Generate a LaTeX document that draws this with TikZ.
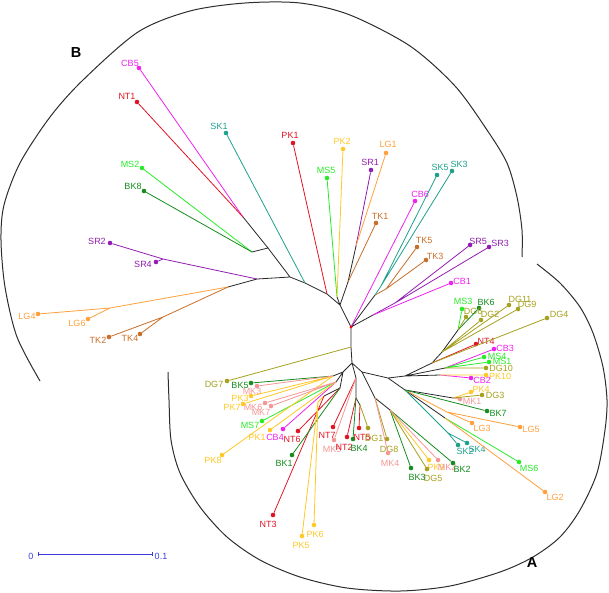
\documentclass[tikz,border=0pt]{standalone}
\usepackage{fontspec}
\setmainfont{Liberation Sans}
\usetikzlibrary{arrows.meta}
\definecolor{cCB}{RGB}{238,34,238}
\definecolor{cNT}{RGB}{225,20,35}
\definecolor{cSK}{RGB}{30,160,140}
\definecolor{cPK}{RGB}{255,200,40}
\definecolor{cMS}{RGB}{40,235,40}
\definecolor{cBK}{RGB}{20,140,30}
\definecolor{cSR}{RGB}{145,30,175}
\definecolor{cLG}{RGB}{255,160,60}
\definecolor{cTK}{RGB}{200,110,40}
\definecolor{cDG}{RGB}{165,160,30}
\definecolor{cMK}{RGB}{245,150,150}
\definecolor{cBar}{RGB}{60,60,220}
\definecolor{edge}{RGB}{40,40,40}
\definecolor{arcgray}{RGB}{45,45,45}

\begin{document}
\begin{tikzpicture}[x=1pt,y=-1pt,
    leaf/.style={circle,fill=#1,inner sep=0pt,minimum size=4.6pt},
    lab/.style={text=#1,font=\fontsize{9}{9}\selectfont,inner sep=0pt},
    br/.style={line width=0.8pt,draw=#1},
    br/.default=edge,
    arc/.style={line width=1pt,draw=arcgray},
    tag/.style={font=\fontsize{14.5}{14.5}\selectfont\bfseries,inner sep=0pt}]
    \useasboundingbox (0,0) rectangle (609,592);

    % cluster arcs
    \draw[arc] plot[smooth] coordinates {(40,381) (17,337) (5,287) (1,240) (4,205) (20,163) (50,117) (83,80) (138,32) (190,11) (245,3) (300,3) (350,15) (410,46) (455,86) (487,130) (507,163) (517,197) (522,230) (522,257)};
    \draw[arc] plot[smooth] coordinates {(168,372) (169,400) (171,440) (180,473) (200,507) (227,537) (260,560) (300,577) (347,588) (400,591) (450,586) (500,572) (533,557) (560,537) (580,510) (597,473) (605,430) (607,400) (603,367) (593,333) (580,307) (560,283) (537,264)};
    \node[tag] (tagb) at (76,53) {B};
    \node[tag] (taga) at (532,562) {A};

    % inner nodes, upper part
    \coordinate (root) at (351,327);
    \coordinate (t1) at (340,305);
    \coordinate (t2) at (337,297);
    \coordinate (t3) at (327,294);
    \coordinate (t4) at (305,283);
    \coordinate (t5) at (290,277);
    \coordinate (t6) at (268,248);
    \coordinate (t7) at (243,217);
    \coordinate (t6b) at (252,252);
    \coordinate (t8) at (257,279);
    \coordinate (s1) at (163,259);
    \coordinate (t9) at (228,287);
    \coordinate (lg) at (110,308);
    \coordinate (tk) at (163,317);
    \coordinate (u1) at (348,282);
    \coordinate (u2) at (356,246);
    \coordinate (r1) at (375,295);
    \coordinate (sk) at (381,286);
    \coordinate (tkj) at (386,289);
    \coordinate (r2) at (373,315);
    \coordinate (srj) at (395,303);
    % inner nodes, lower part
    \coordinate (b0) at (351,347);
    \coordinate (lb) at (352,363);
    \coordinate (e0) at (343,372);
    \coordinate (e1a) at (333,376);
    \coordinate (e1b) at (336,382);
    \coordinate (e2) at (340,388);
    \coordinate (e3) at (324,396);
    \coordinate (pkj) at (318,402);
    \coordinate (c0) at (356,378);
    \coordinate (c1) at (356,398);
    \coordinate (c2) at (360,405);
    \coordinate (d0) at (362,372);
    \coordinate (d1) at (375,398);
    \coordinate (d2) at (390,410);
    \coordinate (r0) at (388,378);
    \coordinate (rr1) at (405,376);
    \coordinate (rr2) at (432,363);
    \coordinate (uu1) at (442,352);
    \coordinate (msb) at (458,330);
    \coordinate (rr3) at (445,368);
    \coordinate (rr4) at (440,375);
    \coordinate (rr5) at (405,390);
    \coordinate (m1) at (453,398);
    \coordinate (l3) at (447,412);
    \coordinate (m2) at (445,418);
    \coordinate (skj) at (448,433);

    % leaves
    \node[leaf=cCB] (cb5) at (139,68) {}; \node[lab=cCB] (cb5t) at (130,63) {CB5};
    \node[leaf=cNT] (nt1) at (137,102) {}; \node[lab=cNT] (nt1t) at (127,96) {NT1};
    \node[leaf=cMS] (ms2) at (142,168) {}; \node[lab=cMS] (ms2t) at (130,164) {MS2};
    \node[leaf=cBK] (bk8) at (144,191) {}; \node[lab=cBK] (bk8t) at (133,186) {BK8};
    \node[leaf=cSK] (sk1) at (226,133) {}; \node[lab=cSK] (sk1t) at (219,126) {SK1};
    \node[leaf=cNT] (pk1) at (293,143) {}; \node[lab=cNT] (pk1t) at (290,135) {PK1};
    \node[leaf=cPK] (pk2) at (343,149) {}; \node[lab=cPK] (pk2t) at (342,141) {PK2};
    \node[leaf=cMS] (ms5) at (327,178) {}; \node[lab=cMS] (ms5t) at (326,170) {MS5};
    \node[leaf=cSR] (sr1) at (371,170) {}; \node[lab=cSR] (sr1t) at (370,162) {SR1};
    \node[leaf=cLG] (lg1) at (386,153) {}; \node[lab=cLG] (lg1t) at (388,144) {LG1};
    \node[leaf=cCB] (cb6) at (415,201) {}; \node[lab=cCB] (cb6t) at (420,194) {CB6};
    \node[leaf=cTK] (tk1) at (376,223) {}; \node[lab=cTK] (tk1t) at (380,216) {TK1};
    \node[leaf=cSK] (sk5) at (437,175) {}; \node[lab=cSK] (sk5t) at (440,167) {SK5};
    \node[leaf=cSK] (sk3) at (452,171) {}; \node[lab=cSK] (sk3t) at (459,164) {SK3};
    \node[leaf=cTK] (tk5) at (417,247) {}; \node[lab=cTK] (tk5t) at (424,240) {TK5};
    \node[leaf=cTK] (tk3) at (426,260) {}; \node[lab=cTK] (tk3t) at (435,256) {TK3};
    \node[leaf=cSR] (sr5) at (470,245) {}; \node[lab=cSR] (sr5t) at (478,241) {SR5};
    \node[leaf=cSR] (sr3) at (489,247) {}; \node[lab=cSR] (sr3t) at (500,243) {SR3};
    \node[leaf=cCB] (cb1) at (451,283) {}; \node[lab=cCB] (cb1t) at (462,281) {CB1};
    \node[leaf=cSR] (sr2) at (110,243) {}; \node[lab=cSR] (sr2t) at (97,241) {SR2};
    \node[leaf=cSR] (sr4) at (156,262) {}; \node[lab=cSR] (sr4t) at (143,264) {SR4};
    \node[leaf=cLG] (lg4) at (38,314) {}; \node[lab=cLG] (lg4t) at (27,316) {LG4};
    \node[leaf=cLG] (lg6) at (88,319) {}; \node[lab=cLG] (lg6t) at (77,323) {LG6};
    \node[leaf=cTK] (tk2) at (109,337) {}; \node[lab=cTK] (tk2t) at (98,340) {TK2};
    \node[leaf=cTK] (tk4) at (140,334) {}; \node[lab=cTK] (tk4t) at (130,338) {TK4};
    \node[leaf=cMS] (ms3) at (462,309) {}; \node[lab=cMS] (ms3t) at (463,301) {MS3};
    \node[leaf=cBK] (bk6) at (479,308) {}; \node[lab=cBK] (bk6t) at (486,302) {BK6};
    \node[leaf=cDG] (dg6) at (466,317) {}; \node[lab=cDG] (dg6t) at (473,311) {DG6};
    \node[leaf=cDG] (dg2) at (481,320) {}; \node[lab=cDG] (dg2t) at (490,314) {DG2};
    \node[leaf=cDG] (dg11) at (509,305) {}; \node[lab=cDG] (dg11t) at (520,299) {DG11};
    \node[leaf=cDG] (dg9) at (518,309) {}; \node[lab=cDG] (dg9t) at (527,304) {DG9};
    \node[leaf=cDG] (dg4) at (547,318) {}; \node[lab=cDG] (dg4t) at (559,314) {DG4};
    \node[leaf=cNT] (nt4) at (476,344) {}; \node[lab=cNT] (nt4t) at (486,341) {NT4};
    \node[leaf=cCB] (cb3) at (494,349) {}; \node[lab=cCB] (cb3t) at (505,348) {CB3};
    \node[leaf=cMS] (ms4) at (484,357) {}; \node[lab=cMS] (ms4t) at (497,356) {MS4};
    \node[leaf=cMS] (ms1) at (489,362) {}; \node[lab=cMS] (ms1t) at (502,361) {MS1};
    \node[leaf=cDG] (dg10) at (486,368) {}; \node[lab=cDG] (dg10t) at (501,368) {DG10};
    \node[leaf=cPK] (pk10) at (486,375) {}; \node[lab=cPK] (pk10t) at (500,376) {PK10};
    \node[leaf=cCB] (cb2) at (471,378) {}; \node[lab=cCB] (cb2t) at (482,380) {CB2};
    \node[leaf=cPK] (pk4) at (471,392) {}; \node[lab=cPK] (pk4t) at (481,389) {PK4};
    \node[leaf=cDG] (dg3) at (482,395) {}; \node[lab=cDG] (dg3t) at (495,395) {DG3};
    \node[leaf=cMK] (mk1) at (460,399) {}; \node[lab=cMK] (mk1t) at (472,401) {MK1};
    \node[leaf=cBK] (bk7) at (487,411) {}; \node[lab=cBK] (bk7t) at (498,413) {BK7};
    \node[leaf=cLG] (lg3) at (472,423) {}; \node[lab=cLG] (lg3t) at (482,428) {LG3};
    \node[leaf=cLG] (lg5) at (520,427) {}; \node[lab=cLG] (lg5t) at (531,429) {LG5};
    \node[leaf=cSK] (sk2) at (458,445) {}; \node[lab=cSK] (sk2t) at (465,451) {SK2};
    \node[leaf=cSK] (sk4) at (467,443) {}; \node[lab=cSK] (sk4t) at (477,449) {SK4};
    \node[leaf=cMS] (ms6) at (519,462) {}; \node[lab=cMS] (ms6t) at (529,468) {MS6};
    \node[leaf=cLG] (lg2) at (545,492) {}; \node[lab=cLG] (lg2t) at (555,497) {LG2};
    \node[leaf=cPK] (pk9) at (429,460) {}; \node[lab=cPK] (pk9t) at (436,467) {PK9};
    \node[leaf=cMK] (mk2) at (438,460) {}; \node[lab=cMK] (mk2t) at (447,467) {MK2};
    \node[leaf=cBK] (bk2) at (453,463) {}; \node[lab=cBK] (bk2t) at (462,469) {BK2};
    \node[leaf=cDG] (dg5) at (427,469) {}; \node[lab=cDG] (dg5t) at (433,478) {DG5};
    \node[leaf=cBK] (bk3) at (411,468) {}; \node[lab=cBK] (bk3t) at (417,477) {BK3};
    \node[leaf=cNT] (nt7) at (333,427) {}; \node[lab=cNT] (nt7t) at (327,435) {NT7};
    \node[leaf=cMK] (mk5) at (334,440) {}; \node[lab=cMK] (mk5t) at (332,449) {MK5};
    \node[leaf=cNT] (nt2) at (347,437) {}; \node[lab=cNT] (nt2t) at (344,447) {NT2};
    \node[leaf=cBK] (bk4) at (353,439) {}; \node[lab=cBK] (bk4t) at (359,448) {BK4};
    \node[leaf=cNT] (nt5) at (359,428) {}; \node[lab=cNT] (nt5t) at (362,437) {NT5};
    \node[leaf=cDG] (dg1) at (368,428) {}; \node[lab=cDG] (dg1t) at (374,438) {DG1};
    \node[leaf=cDG] (dg8) at (387,439) {}; \node[lab=cDG] (dg8t) at (389,449) {DG8};
    \node[leaf=cMK] (mk4) at (388,453) {}; \node[lab=cMK] (mk4t) at (390,463) {MK4};
    \node[leaf=cDG] (dg7) at (227,381) {}; \node[lab=cDG] (dg7t) at (214,384) {DG7};
    \node[leaf=cMK] (mk3) at (257,386) {}; \node[lab=cMK] (mk3t) at (252,391) {MK3};
    \node[leaf=cBK] (bk5) at (251,383) {}; \node[lab=cBK] (bk5t) at (240,385) {BK5};
    \node[leaf=cPK] (pk3) at (251,396) {}; \node[lab=cPK] (pk3t) at (240,398) {PK3};
    \node[leaf=cMK] (mk6) at (265,403) {}; \node[lab=cMK] (mk6t) at (253,407) {MK6};
    \node[leaf=cMK] (mk7) at (271,406) {}; \node[lab=cMK] (mk7t) at (261,412) {MK7};
    \node[leaf=cPK] (pk7) at (243,404) {}; \node[lab=cPK] (pk7t) at (232,407) {PK7};
    \node[leaf=cMS] (ms7) at (262,421) {}; \node[lab=cMS] (ms7t) at (250,425) {MS7};
    \node[leaf=cPK] (pk1b) at (270,430) {}; \node[lab=cPK] (pk1bt) at (257,437) {PK1};
    \node[leaf=cCB] (cb4) at (283,429) {}; \node[lab=cCB] (cb4t) at (275,437) {CB4};
    \node[leaf=cNT] (nt6) at (298,431) {}; \node[lab=cNT] (nt6t) at (292,439) {NT6};
    \node[leaf=cPK] (pk8) at (222,455) {}; \node[lab=cPK] (pk8t) at (213,460) {PK8};
    \node[leaf=cBK] (bk1) at (292,455) {}; \node[lab=cBK] (bk1t) at (284,463) {BK1};
    \node[leaf=cNT] (nt3) at (273,515) {}; \node[lab=cNT] (nt3t) at (268,524) {NT3};
    \node[leaf=cPK] (pk5) at (302,536) {}; \node[lab=cPK] (pk5t) at (301,545) {PK5};
    \node[leaf=cPK] (pk6) at (314,525) {}; \node[lab=cPK] (pk6t) at (315,534) {PK6};

    % inner branches
    \draw[br] (root) -- (t1) (t1) -- (t2) (t1) -- (t3) (t3) -- (t4) (t4) -- (t5)
        (t5) -- (t6) (t6) -- (t7) (t6) -- (t6b) (t5) -- (t8) (t8) -- (t9)
        (t1) -- (u1) (u1) -- (u2) (root) -- (r1) (root) -- (r2);
    \draw[br] (root) -- (b0) (b0) -- (lb) (lb) -- (e0) (e0) -- (e1a) (e0) -- (e1b)
        (e0) -- (e2) (e2) -- (e3) (lb) -- (c0) (c0) -- (c1) (c1) -- (c2)
        (lb) -- (d0) (d0) -- (d1) (d1) -- (d2) (d0) -- (r0) (r0) -- (rr1)
        (rr1) -- (rr2) (rr2) -- (uu1) (uu1) -- (msb) (rr1) -- (rr3) (rr1) -- (rr4)
        (r0) -- (rr5) (rr5) -- (m1) (rr5) -- (m2);
    \draw[br=cSR] (t8) -- (s1) (r2) -- (srj);
    \draw[br=cLG] (t9) -- (lg) (rr5) -- (l3);
    \draw[br=cTK] (t9) -- (tk) (r1) -- (tkj);
    \draw[br=cSK] (r1) -- (sk) (rr5) -- (skj);
    \draw[br=cPK] (e3) -- (pkj);

    % terminal branches
    \draw[br=cCB] (t7) -- (cb5) (root) -- (cb6) (r2) -- (cb1) (rr3) -- (cb3) (rr4) -- (cb2) (e1b) -- (cb4);
    \draw[br=cNT] (t7) -- (nt1) (t3) -- (pk1) (rr2) -- (nt4) (c0) -- (nt7) (c1) -- (nt2) (c2) -- (nt5) (e2) -- (nt6) (e3) -- (nt3);
    \draw[br=cMS] (t6b) -- (ms2) (t2) -- (ms5) (msb) -- (ms3) (rr3) -- (ms4) (rr3) -- (ms1) (m2) -- (ms6) (e1b) -- (ms7);
    \draw[br=cBK] (t6b) -- (bk8) (msb) -- (bk6) (rr5) -- (bk7) (d2) -- (bk2) (d2) -- (bk3) (c1) -- (bk4) (e1a) -- (bk5) (e2) -- (bk1);
    \draw[br=cSK] (t4) -- (sk1) (sk) -- (sk5) (sk) -- (sk3) (skj) -- (sk2) (skj) -- (sk4);
    \draw[br=cPK] (t2) -- (pk2) (rr4) -- (pk10) (m1) -- (pk4) (d2) -- (pk9) (e1a) -- (pk3) (e1a) -- (pk7) (e1a) -- (pk8) (e1b) -- (pk1b) (pkj) -- (pk5) (pkj) -- (pk6);
    \draw[br=cSR] (u2) -- (sr1) (srj) -- (sr5) (srj) -- (sr3) (s1) -- (sr2) (s1) -- (sr4);
    \draw[br=cLG] (u2) -- (lg1) (lg) -- (lg4) (lg) -- (lg6) (l3) -- (lg3) (l3) -- (lg5) (m2) -- (lg2);
    \draw[br=cTK] (u1) -- (tk1) (tkj) -- (tk5) (tkj) -- (tk3) (tk) -- (tk2) (tk) -- (tk4);
    \draw[br=cDG] (msb) -- (dg6) (uu1) -- (dg2) (uu1) -- (dg11) (uu1) -- (dg9) (rr2) -- (dg4) (rr3) -- (dg10) (m1) -- (dg3) (d2) -- (dg5) (c2) -- (dg1) (d1) -- (dg8) (b0) -- (dg7);
    \draw[br=cMK] (m1) -- (mk1) (d2) -- (mk2) (c0) -- (mk5) (d1) -- (mk4) (e1a) -- (mk3) (e1b) -- (mk6) (e1b) -- (mk7);
    \node[circle,fill=red,inner sep=0pt,minimum size=3pt] (rootdot) at (root) {};

    % scale bar
    \coordinate (sb0) at (38,554);
    \coordinate (sb1) at (153,554);
    \draw[br=cBar,{Bar[width=4pt]}-{Bar[width=4pt]}] (sb0) -- (sb1);
    \node[lab=cBar] (bar0) at (31,556) {0};
    \node[lab=cBar] (bar1) at (161,556) {0.1};
\end{tikzpicture}
\end{document}
